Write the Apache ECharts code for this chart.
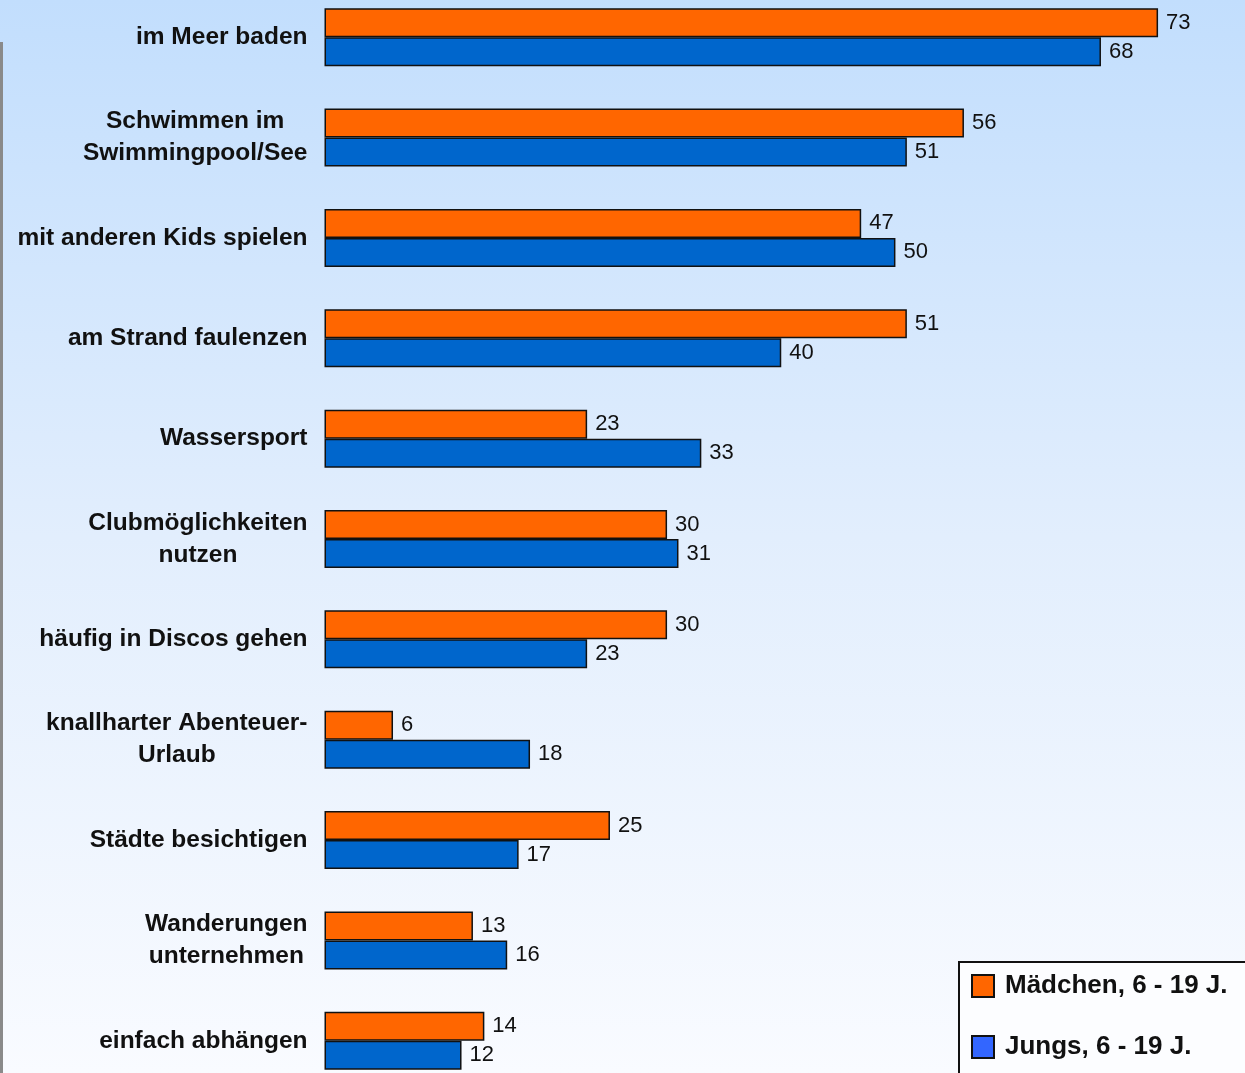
<!DOCTYPE html>
<html>
<head>
<meta charset="utf-8">
<script src="https://cdn.jsdelivr.net/npm/echarts@6/dist/echarts.min.js"></script>
<style>html,body{margin:0;padding:0;}#c{width:1245px;height:1073px;}</style>
</head>
<body>
<div id="c"></div>
<script>
var categories = [
  'im Meer baden',
  'Schwimmen im\nSwimmingpool/See',
  'mit anderen Kids spielen',
  'am Strand faulenzen',
  'Wassersport',
  'Clubmöglichkeiten\nnutzen',
  'häufig in Discos gehen',
  'knallharter Abenteuer-\nUrlaub',
  'Städte besichtigen',
  'Wanderungen\nunternehmen',
  'einfach abhängen'
];
var seriesNames = ['Mädchen, 6 - 19 J.', 'Jungs, 6 - 19 J.'];
var maedchen = [73, 56, 47, 51, 23, 30, 30, 6, 25, 13, 14];
var jungs = [68, 51, 50, 40, 33, 31, 23, 18, 17, 16, 12];

var chart = echarts.init(document.getElementById('c'));
var font = '"Liberation Sans", Arial, sans-serif';
chart.setOption({
  backgroundColor: {
    type: 'linear', x: 0, y: 0, x2: 0, y2: 1,
    colorStops: [
      {offset: 0, color: '#C2DEFD'},
      {offset: 0.5, color: '#E2EEFD'},
      {offset: 1, color: '#F9FBFF'}
    ]
  },
  animation: false,
  graphic: [{
    type: 'rect', left: 0, top: 42, z: 0,
    shape: {width: 3, height: 1040},
    style: {fill: '#8A8A8A'}
  }, {
    type: 'rect', left: 958, top: 961, z: 0,
    shape: {width: 400, height: 200},
    style: {fill: '#FCFDFF', stroke: '#111', lineWidth: 2}
  }],
  grid: {left: 324.5, width: 913.5, top: -13, height: 1104, outerBoundsMode: 'none', containLabel: false},
  xAxis: {
    type: 'value', min: 0, max: 80, show: false,
    splitLine: {show: false}
  },
  yAxis: {
    type: 'category', data: categories, inverse: true,
    axisLine: {show: false}, axisTick: {show: false},
    axisLabel: {
      margin: 17,
      formatter: function (v) {
        return v.split('\n').map(function (l) { return '{c|' + l + '}'; }).join('\n');
      },
      rich: {
        c: {align: 'center', fontSize: 24.5, fontWeight: 'bold', fontFamily: font, color: '#111', lineHeight: 32}
      }
    }
  },
  legend: {
    orient: 'vertical', left: 971, top: 973, z: 10,
    padding: 0,
    itemGap: 35, itemWidth: 22, itemHeight: 22,
    icon: 'rect',
    textStyle: {fontSize: 26, fontWeight: 'bold', fontFamily: font, color: '#111', padding: [0, 0, 0, 6]},
    data: [
      {name: seriesNames[0], itemStyle: {color: '#FF6600', borderColor: '#111', borderWidth: 2}},
      {name: seriesNames[1], itemStyle: {color: '#3366FF', borderColor: '#111', borderWidth: 2}}
    ]
  },
  series: [
    {
      name: seriesNames[0], type: 'bar', data: maedchen,
      barWidth: 29, barGap: '0%',
      itemStyle: {color: '#FF6600', borderColor: '#111', borderWidth: 1.5},
      label: {show: true, position: 'right', distance: 8, fontSize: 22, fontFamily: font, color: '#111'}
    },
    {
      name: seriesNames[1], type: 'bar', data: jungs,
      barWidth: 29, barGap: '0%',
      itemStyle: {color: '#0066CC', borderColor: '#111', borderWidth: 1.5},
      label: {show: true, position: 'right', distance: 8, fontSize: 22, fontFamily: font, color: '#111'}
    }
  ]
});
</script>
</body>
</html>
